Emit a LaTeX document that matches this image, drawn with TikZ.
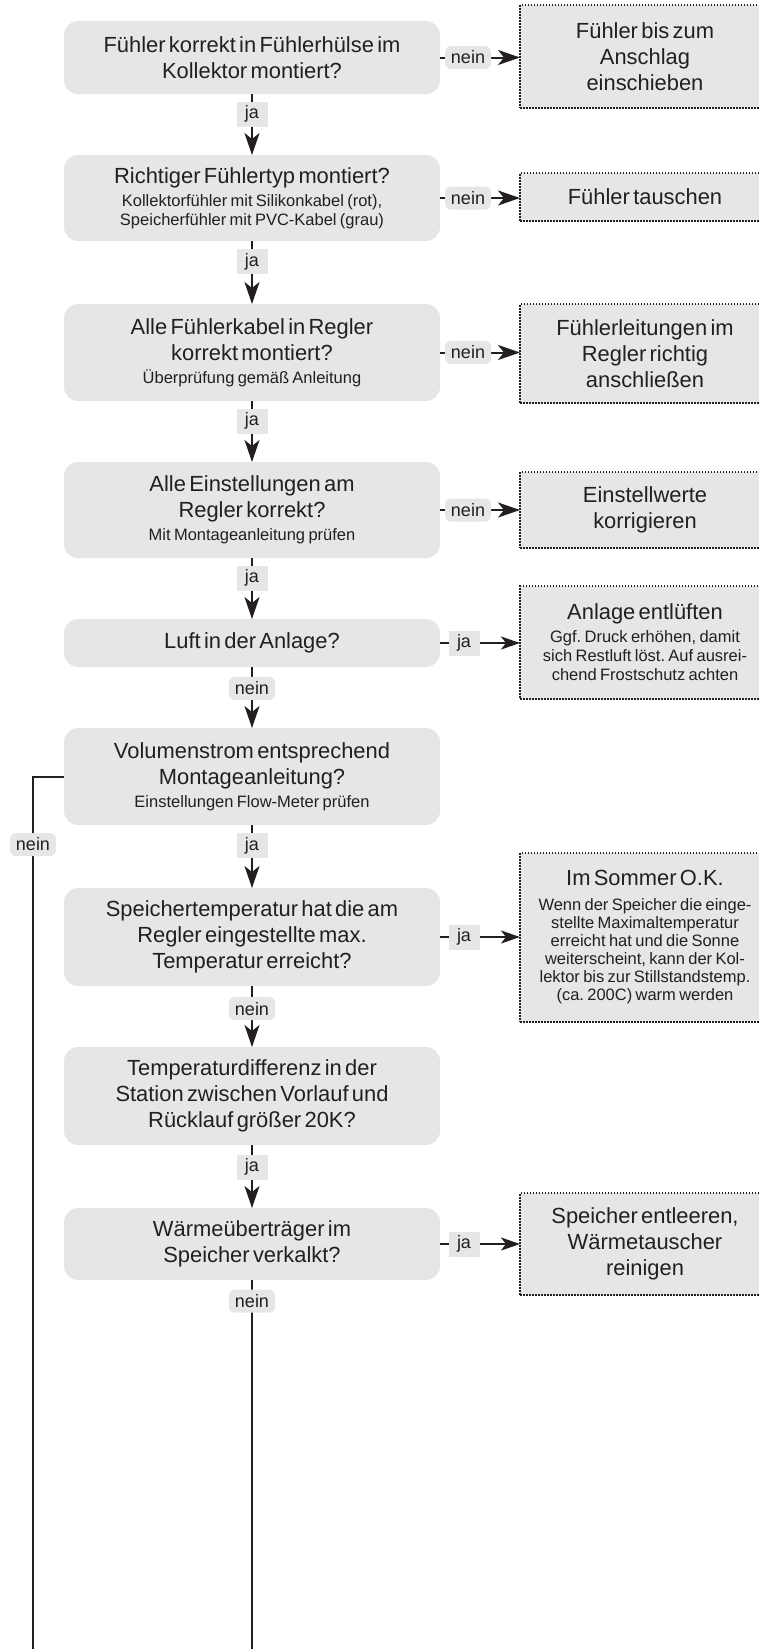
\documentclass[tikz,border=0pt]{standalone}
\usepackage{fontspec}
\setmainfont{Liberation Sans}
\usetikzlibrary{arrows.meta}
\frenchspacing
\definecolor{boxgray}{RGB}{230,230,230}
\definecolor{ink}{RGB}{35,31,32}
\newcommand\mainT[1]{{\fontsize{21.9}{26}\selectfont #1\par}}
\newcommand\subT[1]{{\vspace{4pt}\fontsize{16.5}{19}\selectfont #1\par}}
\newcommand\subTT[1]{{\vspace{7pt}\fontsize{16.5}{18}\selectfont #1\par}}
\tikzset{
  qbox/.style={fill=boxgray, rounded corners=14pt, minimum width=376pt, text width=366pt,
    align=center, inner sep=0pt, outer sep=0pt, text=ink, execute at begin node=\frenchspacing},
  abox/.style={fill=boxgray, draw=ink, line width=1.5pt, dash pattern=on 1.5pt off 1.5pt,
    minimum width=250pt, text width=244pt, align=center, inner sep=0pt, outer sep=0pt, text=ink,
    execute at begin node=\frenchspacing},
  conn/.style={draw=ink, line width=2pt, -{Stealth[length=22pt,width=15pt,inset=6pt]}},
  hconn/.style={draw=ink, line width=2.2pt, -{Stealth[length=19pt,width=13pt,inset=5pt]}},
  plain/.style={draw=ink, line width=2pt},
  jalab/.style={fill=boxgray, text=ink, font=\fontsize{18}{18}\selectfont,
    minimum width=31pt, minimum height=25pt, inner sep=0pt},
  neinlab/.style={jalab, rounded corners=6pt, minimum width=46pt, minimum height=23pt}
}
\begin{document}
\begin{tikzpicture}[x=1pt,y=-1pt]
\useasboundingbox (0,0) rectangle (759,1649);
% main question boxes
\node[qbox, minimum height=73pt] (q1) at (252,57.5)
  {\mainT{Fühler korrekt in Fühlerhülse im\\Kollektor montiert?}};
\node[qbox, minimum height=86pt] (q2) at (252,198)
  {\mainT{Richtiger Fühlertyp montiert?}\subT{Kollektorfühler mit Silikonkabel (rot),\\Speicherfühler mit PVC-Kabel (grau)}};
\node[qbox, minimum height=97pt] (q3) at (252,352.5)
  {\mainT{Alle Fühlerkabel in Regler\\korrekt montiert?}\subT{Überprüfung gemäß Anleitung}};
\node[qbox, minimum height=96pt] (q4) at (252,510)
  {\mainT{Alle Einstellungen am\\Regler korrekt?}\subT{Mit Montageanleitung prüfen}};
\node[qbox, minimum height=48pt] (q5) at (252,643)
  {\mainT{Luft in der Anlage?}};
\node[qbox, minimum height=97pt] (q6) at (252,776.5)
  {\mainT{Volumenstrom entsprechend\\Montageanleitung?}\subT{Einstellungen Flow-Meter prüfen}};
\node[qbox, minimum height=98pt] (q7) at (252,937)
  {\mainT{Speichertemperatur hat die am\\Regler eingestellte max.\\Temperatur erreicht?}};
\node[qbox, minimum height=98pt] (q8) at (252,1096)
  {\mainT{Temperaturdifferenz in der\\Station zwischen Vorlauf und\\Rücklauf größer 20K?}};
\node[qbox, minimum height=72pt] (q9) at (252,1244)
  {\mainT{Wärmeüberträger im\\Speicher verkalkt?}};
% action boxes
\node[abox, minimum height=103pt] (d1) at (645,56.5)
  {\mainT{Fühler bis zum\\Anschlag\\einschieben}};
\node[abox, minimum height=48pt] (d2) at (645,197)
  {\mainT{Fühler tauschen}};
\node[abox, minimum height=99pt] (d3) at (645,353.5)
  {\mainT{Fühlerleitungen im\\Regler richtig\\anschließen}};
\node[abox, minimum height=76pt] (d4) at (645,510)
  {\mainT{Einstellwerte\\korrigieren}};
\node[abox, minimum height=113pt] (d5) at (645,642.5)
  {\mainT{Anlage entlüften}\subT{Ggf. Druck erhöhen, damit\\sich Restluft löst. Auf ausrei-\\chend Frostschutz achten}};
\node[abox, minimum height=169pt] (d6) at (645,937.5)
  {\mainT{Im Sommer O.K.}\subTT{Wenn der Speicher die einge-\\stellte Maximaltemperatur\\erreicht hat und die Sonne\\weiterscheint, kann der Kol-\\lektor bis zur Stillstandstemp.\\(ca. 200C) warm werden}};
\node[abox, minimum height=102pt] (d7) at (645,1244)
  {\mainT{Speicher entleeren,\\Wärmetauscher\\reinigen}};
% vertical connectors
\draw[conn] (q1) -- node[jalab,pos=0.33]{ja} (q2);
\draw[conn] (q2) -- node[jalab,pos=0.33]{ja} (q3);
\draw[conn] (q3) -- node[jalab,pos=0.33]{ja} (q4);
\draw[conn] (q4) -- node[jalab,pos=0.33]{ja} (q5);
\draw[conn] (q5) -- node[neinlab,pos=0.35]{nein} (q6);
\draw[conn] (q6) -- node[jalab,pos=0.33]{ja} (q7);
\draw[conn] (q7) -- node[neinlab,pos=0.37]{nein} (q8);
\draw[conn] (q8) -- node[jalab,pos=0.35]{ja} (q9);
% horizontal connectors
\draw[conn] (q1.east) -- node[neinlab,pos=0.35]{nein} (q1.east -| d1.west);
\draw[conn] (q2.east) -- node[neinlab,pos=0.35]{nein} (q2.east -| d2.west);
\draw[conn] (q3.east) -- node[neinlab,pos=0.35]{nein} (q3.east -| d3.west);
\draw[conn] (q4.east) -- node[neinlab,pos=0.35]{nein} (q4.east -| d4.west);
\draw[hconn] (q5.east) -- node[jalab,pos=0.3]{ja} (q5.east -| d5.west);
\draw[hconn] (q7.east) -- node[jalab,pos=0.3]{ja} (q7.east -| d6.west);
\draw[hconn] (q9.east) -- node[jalab,pos=0.3]{ja} (q9.east -| d7.west);
% continuing lines
\coordinate (fbtop) at (33,776.5);
\coordinate (fbend) at (33,1665);
\coordinate (bend) at (252,1665);
\draw[plain] (q6.west) -- (fbtop) -- (fbend);
\node[neinlab] (nl) at (33,844.5) {nein};
\draw[plain] (q9) -- node[neinlab,pos=0.055]{nein} (bend);
\end{tikzpicture}
\end{document}
